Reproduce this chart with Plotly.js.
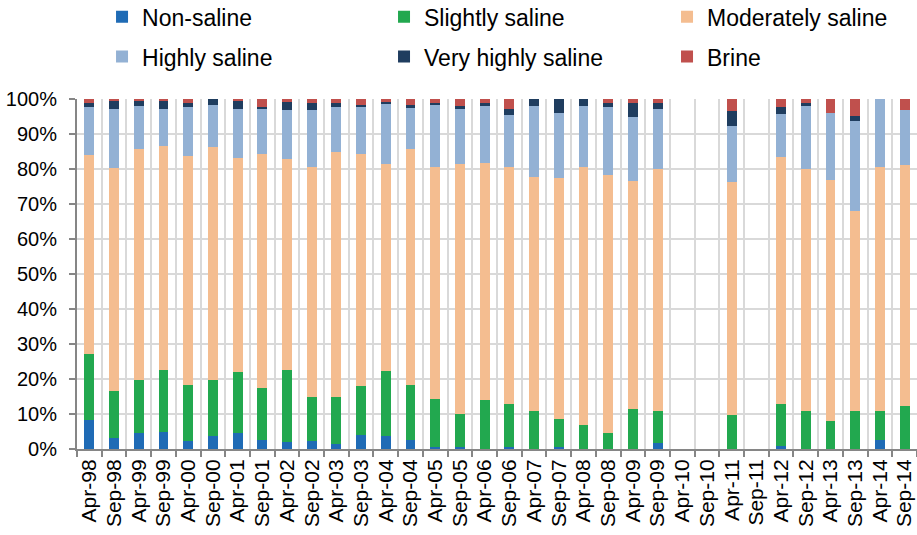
<!DOCTYPE html>
<html>
<head>
<meta charset="utf-8">
<script src="https://cdn.plot.ly/plotly-3.0.1.min.js"></script>
<style>html,body{margin:0;padding:0;background:#fff}#chart{width:917px;height:535px}</style>
</head>
<body>
<div id="chart"></div>
<script>
const categories = ["Apr-98","Sep-98","Apr-99","Sep-99","Apr-00","Sep-00","Apr-01","Sep-01","Apr-02","Sep-02","Apr-03","Sep-03","Apr-04","Sep-04","Apr-05","Sep-05","Apr-06","Sep-06","Apr-07","Sep-07","Apr-08","Sep-08","Apr-09","Sep-09","Apr-10","Sep-10","Apr-11","Sep-11","Apr-12","Sep-12","Apr-13","Sep-13","Apr-14","Sep-14"];

const nonSaline        = [8.2,3.1,4.6,5.0,2.2,3.6,4.6,2.5,1.9,2.2,1.3,3.9,3.6,2.5,0.7,0.7,0,0.7,0,0.7,0,0,0,1.7,null,null,0,null,0.8,0,0,0,2.5,0];
const slightlySaline   = [19.0,13.4,15.2,17.5,16.2,16.2,17.3,14.9,20.8,12.8,13.5,14.0,18.6,15.9,13.7,9.2,14.1,12.1,10.9,8.0,7.0,4.6,11.5,9.3,null,null,9.8,null,12.2,10.8,7.9,10.9,8.3,12.2];
const moderatelySaline = [56.7,63.9,66.0,64.2,65.3,66.5,61.3,67.0,60.3,65.7,70.2,66.4,59.1,67.4,66.3,71.5,67.7,67.8,66.8,68.7,73.6,73.7,65.2,69.1,null,null,66.6,null,70.4,69.3,69.1,57.2,69.8,69.0];
const highlySaline     = [13.8,16.7,12.1,10.4,14.0,12.1,14.0,12.8,14.0,16.1,12.6,13.3,17.2,11.5,17.5,15.8,16.3,14.8,20.4,18.7,17.4,19.3,18.2,17.0,null,null,15.8,null,12.2,17.8,18.9,25.5,19.4,15.6];
const veryHighlySaline = [1.3,2.3,1.4,2.2,1.1,1.6,2.1,0.6,2.2,2.2,1.4,0.7,0.7,0.9,0.8,0.9,0.9,1.7,1.9,3.9,2.0,1.3,3.9,1.9,null,null,4.3,null,2.1,1.0,0,1.6,0,0];
const brine            = [1.0,0.6,0.7,0.7,1.2,0,0.7,2.2,0.8,1.0,1.0,1.7,0.8,1.8,1.0,1.9,1.0,2.9,0,0,0,1.1,1.2,1.0,null,null,3.5,null,2.3,1.1,4.1,4.8,0,3.2];

const seriesNames  = ["Non-saline","Slightly saline","Moderately saline","Highly saline","Very highly saline","Brine"];
const seriesValues = [nonSaline, slightlySaline, moderatelySaline, highlySaline, veryHighlySaline, brine];
const seriesColors = ["#1f6bb5","#22a84f","#f4bd90","#93b1d4","#1f3d5f","#c0504d"];
const legendIds    = ["legend","legend2","legend3","legend4","legend5","legend6"];

const traces = seriesNames.map((name, i) => ({
  type: "bar",
  name: name,
  x: categories,
  y: seriesValues[i],
  marker: {color: seriesColors[i], line: {width: 0}},
  legend: legendIds[i],
  hoverinfo: "x+y+name"
}));

const fontFamily = "Liberation Sans, Arial, sans-serif";
const legendX = [0.0298, 0.3655, 0.7024];
const legendY = [1.235, 1.121];
function makeLegend(col, row) {
  return {
    orientation: "h",
    xanchor: "left",
    yanchor: "middle",
    x: legendX[col],
    y: legendY[row],
    font: {family: fontFamily, size: 23, color: "#000"},
    bgcolor: "rgba(0,0,0,0)",
    borderwidth: 0,
    itemclick: false
  };
}

const layout = {
  width: 917,
  height: 535,
  margin: {l: 77, r: 0, t: 99, b: 86, autoexpand: false},
  paper_bgcolor: "#fff",
  plot_bgcolor: "#fff",
  barmode: "stack",
  barnorm: "percent",
  bargap: 0.6,
  showlegend: true,
  font: {family: fontFamily, color: "#000"},
  legend: makeLegend(0, 0),
  legend2: makeLegend(1, 0),
  legend3: makeLegend(2, 0),
  legend4: makeLegend(0, 1),
  legend5: makeLegend(1, 1),
  legend6: makeLegend(2, 1),
  xaxis: {
    type: "category",
    tickmode: "linear",
    dtick: 1,
    tickangle: -90,
    tickson: "boundaries",
    ticks: "outside",
    ticklen: 6,
    tickwidth: 2,
    tickcolor: "#868686",
    showline: true,
    linecolor: "#868686",
    linewidth: 2,
    showgrid: true,
    gridcolor: "#d9d9d9",
    gridwidth: 2,
    tickfont: {family: fontFamily, size: 21, color: "#000"},
    fixedrange: true
  },
  yaxis: {
    range: [0, 100],
    dtick: 10,
    ticksuffix: "%",
    ticks: "outside",
    ticklen: 6,
    tickwidth: 2,
    tickcolor: "#868686",
    ticklabelstandoff: 8,
    showline: true,
    linecolor: "#868686",
    linewidth: 2,
    showgrid: true,
    gridcolor: "#d9d9d9",
    gridwidth: 2,
    zeroline: false,
    tickfont: {family: fontFamily, size: 20, color: "#000"},
    fixedrange: true
  }
};

Plotly.newPlot("chart", traces, layout, {displayModeBar: false, staticPlot: true});
</script>
</body>
</html>
